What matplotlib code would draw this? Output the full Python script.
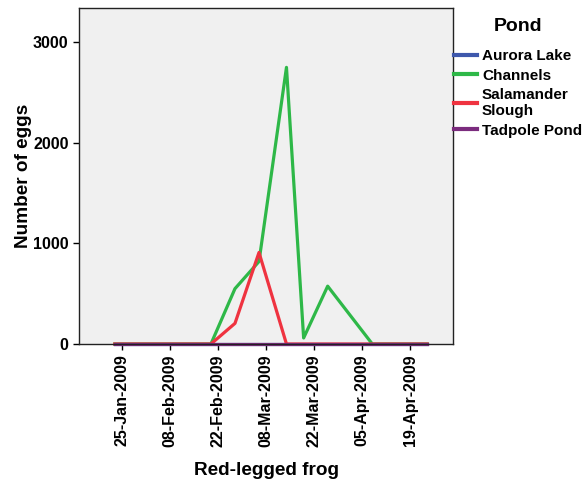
import matplotlib
matplotlib.use("Agg")
import matplotlib.pyplot as plt
import matplotlib.dates as mdates
import numpy as np

# data
dates = np.array(['2009-01-23', '2009-02-20', '2009-02-27', '2009-03-06', '2009-03-14',
                  '2009-03-19', '2009-03-26', '2009-04-08', '2009-04-24'], dtype='datetime64[D]')
aurora = [0, 0, 0, 0, 0, 0, 0, 0, 0]
channels = [0, 0, 550, 820, 2750, 60, 575, 0, 0]
salamander = [0, 0, 205, 910, 0, 0, 0, 0, 0]
tadpole = [0, 0, 0, 0, 0, 0, 0, 0, 0]

series = [("Aurora Lake", aurora, '#3E58AC'),
          ("Channels", channels, '#2EB848'),
          ("Salamander\nSlough", salamander, '#EF3340'),
          ("Tadpole Pond", tadpole, '#7B2C7E')]

tick_dates = np.array(['2009-01-25', '2009-02-08', '2009-02-22', '2009-03-08',
                       '2009-03-22', '2009-04-05', '2009-04-19'], dtype='datetime64[D]')

plt.rcParams['font.family'] = ['Liberation Sans', 'DejaVu Sans']
plt.rcParams['font.weight'] = 'bold'

fig = plt.figure(figsize=(5.88, 4.83), dpi=100)
ax = fig.add_axes([0.1344, 0.2878, 0.636, 0.6956])
ax.set_facecolor('#F0F0F0')

for name, vals, col in series:
    ax.plot(dates, vals, color=col, lw=2.3, label=name, clip_on=False)

ax.set_xlim(np.datetime64('2009-01-12T14:00'), np.datetime64('2009-05-01T12:00'))
ax.set_ylim(0, 3340)
ax.set_yticks([0, 1000, 2000, 3000])
ax.set_xticks(tick_dates)
ax.xaxis.set_major_formatter(mdates.DateFormatter('%d-%b-%Y'))
ax.tick_params(axis='x', rotation=90, labelsize=11.5, length=4, width=1)
ax.tick_params(axis='y', labelsize=11.5, length=4, width=1)
for lab in ax.get_xticklabels() + ax.get_yticklabels():
    lab.set_fontweight('bold')
for s in ax.spines.values():
    s.set_linewidth(1)
    s.set_color('#222222')

ax.set_xlabel("Red-legged frog", fontsize=13.7, fontweight='bold', labelpad=11)
ax.set_ylabel("Number of eggs", fontsize=13.7, fontweight='bold', labelpad=1)

leg = ax.legend(loc='upper left', bbox_to_anchor=(1.0, 0.972), frameon=False,
                borderaxespad=0, borderpad=0.05, handlelength=1.55, handletextpad=0.3,
                labelspacing=0.36, fontsize=11, title="Pond",
                title_fontproperties={'weight': 'bold', 'size': 14})
leg._legend_box.align = "center"
leg._legend_box.sep = 10
for line in leg.get_lines():
    line.set_linewidth(3)

fig.savefig("out.png", dpi=100)
